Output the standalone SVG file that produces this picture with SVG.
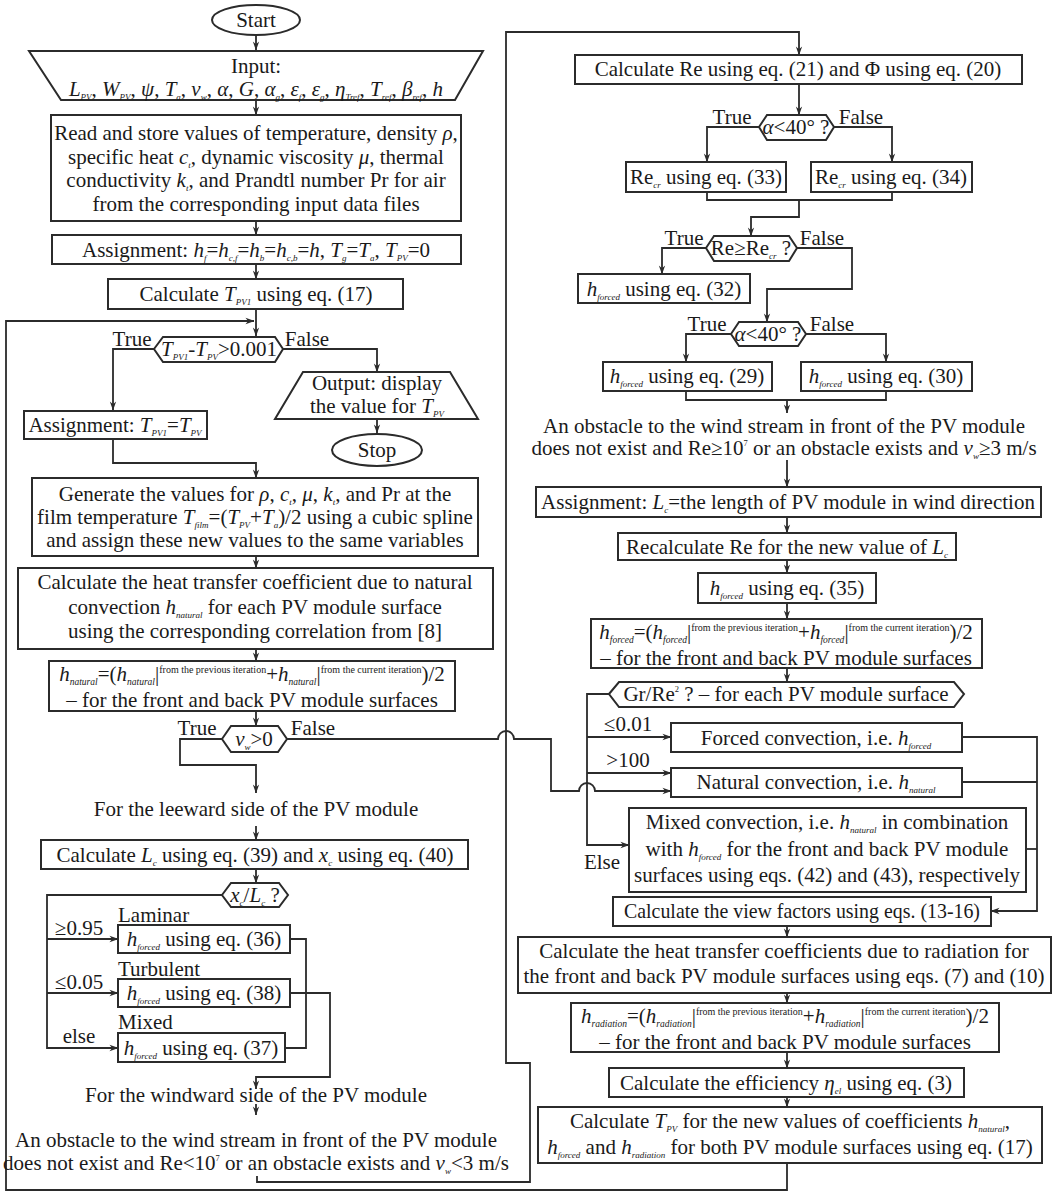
<svg xmlns="http://www.w3.org/2000/svg" width="1059" height="1193" viewBox="0 0 1059 1193">
<defs>
<style>
.t{font-family:"Liberation Serif","Times New Roman",serif;font-size:21px;fill:#1a1a1a;text-anchor:middle}
.l{text-anchor:start}
.i{font-style:italic}
.s{font-size:9px;font-style:italic;baseline-shift:-4px}
.s2{font-size:9.5px;font-style:italic;baseline-shift:-4px}
.p{font-size:8.5px;baseline-shift:9px}
.q{font-size:10px;baseline-shift:8px}
.b{font-size:21px;font-style:normal}
.n{fill:#fff;stroke:#2b2b2b;stroke-width:2}
.c{fill:none;stroke:#2b2b2b;stroke-width:1.8}
.a{marker-end:url(#ar)}
</style>
<marker id="ar" markerUnits="userSpaceOnUse" markerWidth="9" markerHeight="9" viewBox="0 0 10 10" refX="9.5" refY="5" orient="auto"><path d="M0,1.5 L10,5 L0,8.5 L3,5 Z" fill="#2b2b2b"/></marker>
</defs>
<rect width="1059" height="1193" fill="#fff"/>
<g id="connectors">
<path class="c a" d="M256,35 V50"/>
<path class="c a" d="M256,100 V115"/>
<path class="c a" d="M256,221 V235"/>
<path class="c a" d="M256,264 V279"/>
<path class="c a" d="M256,309 V336"/>
<path class="c a" d="M787,1163 V1190 H6 V321 H254"/>
<path class="c a" d="M154,349 H113 V410"/>
<path class="c a" d="M283,349 H377 V372"/>
<path class="c a" d="M377,419 V433"/>
<path class="c a" d="M113,439 V463 H256 V478"/>
<path class="c a" d="M256,556 V568"/>
<path class="c a" d="M256,649 V661"/>
<path class="c a" d="M256,711 V726"/>
<path class="c a" d="M222,739 H180 V765 H256 V793"/>
<path class="c a" d="M287,739 H498 A8,8 0 0 1 514,739 H551 V791 H579 A8,8 0 0 1 595,791 H671"/>
<path class="c a" d="M256,826 V840"/>
<path class="c a" d="M256,869 V883"/>
<path class="c a" d="M222,895 H47 V1048 H118"/>
<path class="c a" d="M47,939 H118"/>
<path class="c a" d="M47,993 H118"/>
<path class="c" d="M290,939 H306 V1048 H285"/>
<path class="c a" d="M290,993 H330 V1077 H256 V1089"/>
<path class="c a" d="M256,1104 V1115"/>
<path class="c a" d="M257,1176 V1182 H530 V1063 H506 V32 H799 V55"/>
<path class="c a" d="M799,84 V115"/>
<path class="c a" d="M759,127 H707 V162"/>
<path class="c a" d="M834,127 H892 V162"/>
<path class="c" d="M707,192 V200 H892 V192"/>
<path class="c a" d="M799,200 V217 H751 V236"/>
<path class="c a" d="M706,248 H662 V274"/>
<path class="c a" d="M797,248 H852 V289 H767 V322"/>
<path class="c a" d="M731,334 H686 V362"/>
<path class="c a" d="M806,334 H886 V362"/>
<path class="c" d="M686,391 V400 H886 V391"/>
<path class="c a" d="M787,400 V413"/>
<path class="c a" d="M787,460 V487"/>
<path class="c a" d="M787,517 V533"/>
<path class="c a" d="M787,560 V573"/>
<path class="c a" d="M787,603 V619"/>
<path class="c a" d="M787,668 V682"/>
<path class="c a" d="M609,694 H587 V845 H629"/>
<path class="c a" d="M587,737 H671"/>
<path class="c a" d="M587,773 H671"/>
<path class="c a" d="M962,737 H1037 V911 H991"/>
<path class="c" d="M962,782 H1037"/>
<path class="c" d="M1026,849 H1037"/>
<path class="c a" d="M787,926 V937"/>
<path class="c a" d="M787,993 V1003"/>
<path class="c a" d="M787,1052 V1068"/>
<path class="c a" d="M787,1097 V1107"/>
</g>
<g id="start"><ellipse class="n" cx="256" cy="20" rx="44" ry="15"/><text class="t" x="256" y="27">Start</text></g>
<g id="input"><polygon class="n" points="29,51 483,51 455,100 61,100"/><text class="t" x="256" y="73">Input:</text><text class="t" x="256" y="96"><tspan class="i">L</tspan><tspan class="s">PV</tspan>, <tspan class="i">W</tspan><tspan class="s">PV</tspan>, <tspan class="i">ψ</tspan>, <tspan class="i">T</tspan><tspan class="s">a</tspan>, <tspan class="i">v</tspan><tspan class="s">w</tspan>, <tspan class="i">α</tspan>, <tspan class="i">G</tspan>, <tspan class="i">α</tspan><tspan class="s">g</tspan>, <tspan class="i">ε</tspan><tspan class="s">f</tspan>, <tspan class="i">ε</tspan><tspan class="s">g</tspan>, <tspan class="i">η</tspan><tspan class="s">Tref</tspan>, <tspan class="i">T</tspan><tspan class="s">ref</tspan>, <tspan class="i">β</tspan><tspan class="s">ref</tspan>, <tspan class="i">h</tspan></text></g>
<g id="read"><rect class="n" x="51" y="115" width="410" height="106"/><text class="t" x="256" y="140">Read and store values of temperature, density <tspan class="i">ρ</tspan>,</text><text class="t" x="256" y="164">specific heat <tspan class="i">c</tspan><tspan class="s">t</tspan>, dynamic viscosity <tspan class="i">μ</tspan>, thermal</text><text class="t" x="256" y="187">conductivity <tspan class="i">k</tspan><tspan class="s">t</tspan>, and Prandtl number Pr for air</text><text class="t" x="256" y="211">from the corresponding input data files</text></g>
<g id="assign1"><rect class="n" x="52" y="235" width="409" height="29"/><text class="t" x="256" y="257">Assignment: <tspan class="i">h</tspan><tspan class="s">f</tspan>=<tspan class="i">h</tspan><tspan class="s">c,f</tspan>=<tspan class="i">h</tspan><tspan class="s">b</tspan>=<tspan class="i">h</tspan><tspan class="s">c,b</tspan>=<tspan class="i">h</tspan>, <tspan class="i">T</tspan><tspan class="s">g</tspan>=<tspan class="i">T</tspan><tspan class="s">a</tspan>, <tspan class="i">T</tspan><tspan class="s">PV</tspan>=0</text></g>
<g id="calcTPV1"><rect class="n" x="108" y="279" width="295" height="30"/><text class="t" x="256" y="301">Calculate <tspan class="i">T</tspan><tspan class="s">PV1</tspan> using eq. (17)</text></g>
<g id="dec1"><polygon class="n" points="154,349 163,337 275,337 283,349 275,362 163,362"/><text class="t" x="219" y="356"><tspan class="i">T</tspan><tspan class="s">PV1</tspan>-<tspan class="i">T</tspan><tspan class="s">PV</tspan>&gt;0.001</text><text class="t" x="132" y="346">True</text><text class="t" x="307" y="346">False</text></g>
<g id="output"><polygon class="n" points="303,372 450,372 478,419 275,419"/><text class="t" x="377" y="390">Output: display</text><text class="t" x="377" y="413">the value for <tspan class="i">T</tspan><tspan class="s">PV</tspan></text></g>
<g id="stop"><ellipse class="n" cx="377" cy="450" rx="45" ry="16"/><text class="t" x="377" y="457">Stop</text></g>
<g id="assign2"><rect class="n" x="24" y="411" width="183" height="28"/><text class="t" x="115" y="432">Assignment: <tspan class="i">T</tspan><tspan class="s">PV1</tspan>=<tspan class="i">T</tspan><tspan class="s">PV</tspan></text></g>
<g id="generate"><rect class="n" x="32" y="478" width="446" height="78"/><text class="t" x="255" y="501">Generate the values for <tspan class="i">ρ</tspan>, <tspan class="i">c</tspan><tspan class="s">t</tspan>, <tspan class="i">μ</tspan>, <tspan class="i">k</tspan><tspan class="s">t</tspan>, and Pr at the</text><text class="t" x="255" y="524">film temperature <tspan class="i">T</tspan><tspan class="s">film</tspan>=(<tspan class="i">T</tspan><tspan class="s">PV</tspan>+<tspan class="i">T</tspan><tspan class="s">a</tspan>)/2 using a cubic spline</text><text class="t" x="255" y="547">and assign these new values to the same variables</text></g>
<g id="natural"><rect class="n" x="18" y="568" width="475" height="81"/><text class="t" x="255" y="589">Calculate the heat transfer coefficient due to natural</text><text class="t" x="255" y="614">convection <tspan class="i">h</tspan><tspan class="s">natural</tspan> for each PV module surface</text><text class="t" x="255" y="638">using the corresponding correlation from [8]</text></g>
<g id="natavg"><rect class="n" x="49" y="661" width="406" height="50"/><text class="t" x="252" y="681"><tspan class="i">h</tspan><tspan class="s2">natural</tspan>=(<tspan class="i">h</tspan><tspan class="s2">natural</tspan><tspan class="b">|</tspan><tspan class="q">from the previous iteration</tspan>+<tspan class="i">h</tspan><tspan class="s2">natural</tspan><tspan class="b">|</tspan><tspan class="q">from the current iteration</tspan>)/2</text><text class="t" x="252" y="706.5">– for the front and back PV module surfaces</text></g>
<g id="dec2"><polygon class="n" points="222,739 231,726 278,726 287,739 278,752 231,752"/><text class="t" x="254" y="746"><tspan class="i">v</tspan><tspan class="s">w</tspan>&gt;0</text><text class="t" x="197" y="735">True</text><text class="t" x="313" y="735">False</text></g>
<g id="leeward"><text class="t" x="256" y="816">For the leeward side of the PV module</text></g>
<g id="calcLc"><rect class="n" x="41" y="840" width="427" height="29"/><text class="t" x="255" y="862">Calculate <tspan class="i">L</tspan><tspan class="s">c</tspan> using eq. (39) and <tspan class="i">x</tspan><tspan class="s">c</tspan> using eq. (40)</text></g>
<g id="dec3"><polygon class="n" points="222,895 231,883 279,883 288,895 279,907 231,907"/><text class="t" x="255" y="902"><tspan class="i">x</tspan><tspan class="s">c</tspan>/<tspan class="i">L</tspan><tspan class="s">c</tspan> ?</text></g>
<g id="laminar"><text class="t l" x="118" y="922">Laminar</text><text class="t" x="79" y="935">≥0.95</text><rect class="n" x="118" y="925" width="172" height="28"/><text class="t" x="204" y="946"><tspan class="i">h</tspan><tspan class="s">forced</tspan> using eq. (36)</text></g>
<g id="turbulent"><text class="t l" x="118" y="976">Turbulent</text><text class="t" x="79" y="989">≤0.05</text><rect class="n" x="118" y="979" width="172" height="28"/><text class="t" x="204" y="1000"><tspan class="i">h</tspan><tspan class="s">forced</tspan> using eq. (38)</text></g>
<g id="mixed"><text class="t l" x="118" y="1029">Mixed</text><text class="t" x="79" y="1043">else</text><rect class="n" x="118" y="1033" width="167" height="29"/><text class="t" x="201" y="1055"><tspan class="i">h</tspan><tspan class="s">forced</tspan> using eq. (37)</text></g>
<g id="windward"><text class="t" x="256" y="1102">For the windward side of the PV module</text></g>
<g id="obstacle1"><text class="t" x="256" y="1147">An obstacle to the wind stream in front of the PV module</text><text class="t" x="256" y="1170">does not exist and Re&lt;10<tspan class="p">7</tspan> or an obstacle exists and <tspan class="i">v</tspan><tspan class="s">w</tspan>&lt;3 m/s</text></g>
<g id="calcRe"><rect class="n" x="575" y="55" width="447" height="29"/><text class="t" x="798" y="76">Calculate Re using eq. (21) and Φ using eq. (20)</text></g>
<g id="dec4"><polygon class="n" points="759,127 767,115 826,115 834,127 826,140 767,140"/><text class="t" x="796" y="134"><tspan class="i">α</tspan>&lt;40° ?</text><text class="t" x="732" y="124">True</text><text class="t" x="861" y="124">False</text></g>
<g id="recr33"><rect class="n" x="626" y="162" width="160" height="30"/><text class="t" x="706" y="184">Re<tspan class="s">cr</tspan> using eq. (33)</text></g>
<g id="recr34"><rect class="n" x="811" y="162" width="161" height="30"/><text class="t" x="891" y="184">Re<tspan class="s">cr</tspan> using eq. (34)</text></g>
<g id="dec5"><polygon class="n" points="706,248 714,236 789,236 797,248 789,261 714,261"/><text class="t" x="751" y="255">Re≥Re<tspan class="s">cr</tspan> ?</text><text class="t" x="684" y="245">True</text><text class="t" x="822" y="245">False</text></g>
<g id="hf32"><rect class="n" x="578" y="274" width="172" height="29"/><text class="t" x="664" y="296"><tspan class="i">h</tspan><tspan class="s">forced</tspan> using eq. (32)</text></g>
<g id="dec6"><polygon class="n" points="731,334 739,322 798,322 806,334 798,346 739,346"/><text class="t" x="768" y="341"><tspan class="i">α</tspan>&lt;40° ?</text><text class="t" x="707" y="331">True</text><text class="t" x="832" y="331">False</text></g>
<g id="hf29"><rect class="n" x="603" y="362" width="169" height="29"/><text class="t" x="687" y="383"><tspan class="i">h</tspan><tspan class="s">forced</tspan> using eq. (29)</text></g>
<g id="hf30"><rect class="n" x="801" y="362" width="171" height="29"/><text class="t" x="886" y="383"><tspan class="i">h</tspan><tspan class="s">forced</tspan> using eq. (30)</text></g>
<g id="obstacle2"><text class="t" x="784" y="433">An obstacle to the wind stream in front of the PV module</text><text class="t" x="784" y="455">does not exist and Re≥10<tspan class="p">7</tspan> or an obstacle exists and <tspan class="i">v</tspan><tspan class="s">w</tspan>≥3 m/s</text></g>
<g id="assignLc"><rect class="n" x="536" y="487" width="505" height="30"/><text class="t" x="788" y="509">Assignment: <tspan class="i">L</tspan><tspan class="s">c</tspan>=the length of PV module in wind direction</text></g>
<g id="recalc"><rect class="n" x="618" y="533" width="338" height="27"/><text class="t" x="787" y="554">Recalculate Re for the new value of <tspan class="i">L</tspan><tspan class="s">c</tspan></text></g>
<g id="hf35"><rect class="n" x="698" y="573" width="178" height="30"/><text class="t" x="787" y="595"><tspan class="i">h</tspan><tspan class="s">forced</tspan> using eq. (35)</text></g>
<g id="forcedavg"><rect class="n" x="591" y="619" width="391" height="49"/><text class="t" x="786" y="639"><tspan class="i">h</tspan><tspan class="s2">forced</tspan>=(<tspan class="i">h</tspan><tspan class="s2">forced</tspan><tspan class="b">|</tspan><tspan class="q">from the previous iteration</tspan>+<tspan class="i">h</tspan><tspan class="s2">forced</tspan><tspan class="b">|</tspan><tspan class="q">from the current iteration</tspan>)/2</text><text class="t" x="786" y="664.5">– for the front and back PV module surfaces</text></g>
<g id="grre"><polygon class="n" points="609,694 619,682 954,682 964,694 954,707 619,707"/><text class="t" x="786" y="701">Gr/Re<tspan class="p">2</tspan> ? – for each PV module surface</text></g>
<g id="forced"><text class="t" x="628" y="731">≤0.01</text><rect class="n" x="671" y="723" width="291" height="29"/><text class="t" x="816" y="745">Forced convection, i.e. <tspan class="i">h</tspan><tspan class="s">forced</tspan></text></g>
<g id="naturalconv"><text class="t" x="628" y="767">&gt;100</text><rect class="n" x="671" y="768" width="291" height="29"/><text class="t" x="816" y="789">Natural convection, i.e. <tspan class="i">h</tspan><tspan class="s">natural</tspan></text></g>
<g id="mixedconv"><text class="t" x="602" y="869">Else</text><rect class="n" x="629" y="808" width="397" height="84"/><text class="t" x="827" y="829">Mixed convection, i.e. <tspan class="i">h</tspan><tspan class="s">natural</tspan> in combination</text><text class="t" x="827" y="856">with <tspan class="i">h</tspan><tspan class="s">forced</tspan> for the front and back PV module</text><text class="t" x="827" y="882">surfaces using eqs. (42) and (43), respectively</text></g>
<g id="viewfactors"><rect class="n" x="613" y="897" width="378" height="29"/><text class="t" x="802" y="918" textLength="356" lengthAdjust="spacingAndGlyphs">Calculate the view factors using eqs. (13-16)</text></g>
<g id="radiation"><rect class="n" x="518" y="937" width="533" height="56"/><text class="t" x="784" y="958">Calculate the heat transfer coefficients due to radiation for</text><text class="t" x="784" y="983">the front and back PV module surfaces using eqs. (7) and (10)</text></g>
<g id="radavg"><rect class="n" x="571" y="1003" width="428" height="49"/><text class="t" x="785" y="1023"><tspan class="i">h</tspan><tspan class="s2">radiation</tspan>=(<tspan class="i">h</tspan><tspan class="s2">radiation</tspan><tspan class="b">|</tspan><tspan class="q">from the previous iteration</tspan>+<tspan class="i">h</tspan><tspan class="s2">radiation</tspan><tspan class="b">|</tspan><tspan class="q">from the current iteration</tspan>)/2</text><text class="t" x="785" y="1048.5">– for the front and back PV module surfaces</text></g>
<g id="efficiency"><rect class="n" x="609" y="1068" width="355" height="29"/><text class="t" x="786" y="1090">Calculate the efficiency  <tspan class="i">η</tspan><tspan class="s">el</tspan> using eq. (3)</text></g>
<g id="calcTPV"><rect class="n" x="538" y="1107" width="504" height="56"/><text class="t" x="790" y="1128">Calculate <tspan class="i">T</tspan><tspan class="s">PV</tspan> for the new values of coefficients <tspan class="i">h</tspan><tspan class="s">natural</tspan>,</text><text class="t" x="790" y="1154"><tspan class="i">h</tspan><tspan class="s">forced</tspan> and <tspan class="i">h</tspan><tspan class="s">radiation</tspan> for both PV module surfaces using eq. (17)</text></g>
</svg>
